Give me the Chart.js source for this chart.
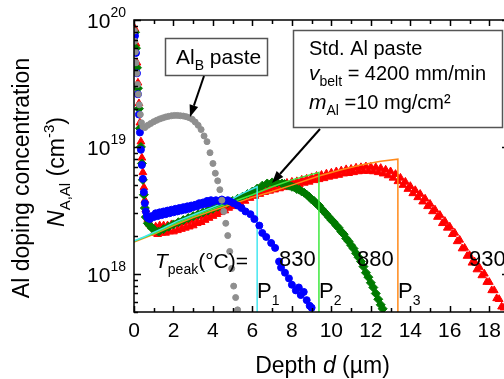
<!DOCTYPE html>
<html>
<head>
<meta charset="utf-8">
<script src="https://cdn.jsdelivr.net/npm/chart.js@4"></script>
<style>
  html, body { margin: 0; padding: 0; background: #fff; overflow: hidden; }
  #wrap { width: 520px; height: 379px; }
</style>
</head>
<body>
<div id="wrap"><canvas id="chart" width="520" height="379"></canvas></div>
<script>
// Al_B paste profile
const grayDepth = [0.02,0.04,0.07,0.1,0.14,0.18,0.22,0.27,0.32,0.38,0.45,0.55,0.7,0.85,1.0,1.15,1.3,1.45,1.6,1.75,1.9,2.05,2.2,2.35,2.5,2.65,2.8,2.95,3.1,3.25,3.4,3.55,3.7,3.85,4.0,4.12,4.24,4.35,4.45,4.55,4.65,4.75,4.85,4.95,5.05,5.15,5.25];
const grayConc = [82e18,68e18,56e18,46e18,38e18,31e18,26e18,21.5e18,18e18,15.5e18,14.4e18,14.2e18,14.8e18,15.3e18,15.8e18,16.2e18,16.6e18,16.9e18,17.2e18,17.4e18,17.6e18,17.7e18,17.7e18,17.6e18,17.5e18,17.3e18,17e18,16.5e18,15.7e18,14.8e18,13.7e18,12.2e18,11e18,9e18,7.4e18,6.2e18,5.4e18,4.6e18,3.8e18,3.1e18,2.5e18,2.0e18,1.5e18,1.1e18,0.8e18,0.65e18,0.52e18];

// Std. Al paste, T_peak = 830 °C
const blueDepth = [0.05,0.1,0.15,0.2,0.25,0.3,0.35,0.4,0.45,0.5,0.55,0.6,0.65,0.7,
  0.8,0.9,1.0,1.1,1.2,1.3,1.4,1.5,1.6,1.7,1.8,1.9,2.0,2.1,2.2,2.3,2.4,2.5,2.6,2.7,2.8,2.9,3.0,3.1,3.2,3.3,3.4,3.5,3.6,3.7,3.8,3.9,4.0,
  4.15,4.3,4.45,4.6,4.75,4.9,5.05,5.25,5.45,5.65,5.9,6.1,6.35,6.5,6.7,6.95,7.15,
  7.35,7.45,7.65,7.85,8.0,8.2,8.35,8.45,8.6,8.75,8.9,9.0];
const blueConc = [75e18,55e18,38e18,26e18,18e18,13e18,9.5e18,7.2e18,5.6e18,4.4e18,3.6e18,3.1e18,2.85e18,2.75e18,
  2.7e18,2.85e18,2.8e18,3.0e18,2.85e18,3.05e18,2.9e18,3.1e18,2.95e18,3.15e18,3.0e18,3.2e18,3.05e18,3.25e18,3.1e18,3.3e18,3.15e18,3.35e18,3.2e18,3.4e18,3.25e18,3.45e18,3.35e18,3.5e18,3.4e18,3.6e18,3.5e18,3.65e18,3.55e18,3.75e18,3.6e18,3.8e18,3.7e18,
  3.8e18,3.75e18,3.85e18,3.75e18,3.8e18,3.7e18,3.6e18,3.45e18,3.3e18,3.1e18,2.95e18,2.7e18,2.4e18,2.1e18,1.95e18,1.75e18,1.6e18,
  1.25e18,1.12e18,1.02e18,0.92e18,0.82e18,0.74e18,0.78e18,0.68e18,0.72e18,0.62e18,0.56e18,0.54e18];

// Std. Al paste, T_peak = 880 °C
const greenDepth = [0.05,0.1,0.15,0.2,0.25,0.3,0.35,0.4,0.45,0.5,0.55,0.6,0.7,0.8,0.9,1.0,
  1.25,1.5,1.75,2.0,2.25,2.5,2.75,3.0,3.25,3.5,3.75,4.0,4.25,4.5,4.75,5.0,5.25,5.5,5.75,6.0,6.25,6.5,6.75,7.0,7.25,7.5,
  7.625,7.75,7.875,8.0,8.125,8.25,8.375,8.5,8.625,8.75,8.875,9.0,9.125,9.25,9.375,9.5,
  9.625,9.75,9.875,10.0,10.125,10.25,10.375,10.5,10.625,10.75,10.875,11.0,11.125,11.25,11.375,11.5,
  11.625,11.75,11.875,12.0,12.125,12.25,12.375,12.5,12.6];
const greenConc = [80e18,60e18,42e18,29e18,20e18,14e18,10e18,7.4e18,5.5e18,4.2e18,3.3e18,2.8e18,2.5e18,2.4e18,2.3e18,2.25e18,
  2.15e18,2.25e18,2.35e18,2.45e18,2.55e18,2.65e18,2.75e18,2.85e18,2.95e18,3.05e18,3.15e18,3.25e18,3.38e18,3.5e18,3.62e18,3.75e18,3.9e18,4.05e18,4.25e18,4.45e18,4.7e18,4.95e18,5.15e18,5.25e18,5.25e18,5.15e18,
  5.1e18,5.0e18,4.95e18,4.85e18,4.8e18,4.65e18,4.6e18,4.45e18,4.35e18,4.2e18,4.05e18,3.85e18,3.75e18,3.55e18,3.45e18,3.25e18,
  3.1e18,2.95e18,2.8e18,2.65e18,2.55e18,2.4e18,2.3e18,2.15e18,2.05e18,1.9e18,1.8e18,1.68e18,1.58e18,1.45e18,1.35e18,1.25e18,
  1.14e18,1.02e18,0.94e18,0.85e18,0.78e18,0.7e18,0.63e18,0.57e18,0.53e18];

// Std. Al paste, T_peak = 930 °C
const redDepth = [0.05,0.1,0.15,0.2,0.25,0.3,0.35,0.4,0.45,0.5,0.55,0.6,0.7,0.8,
  0.9,1.0,1.1,1.2,1.3,1.4,1.5,1.6,1.7,1.8,1.9,2.0,2.1,2.2,2.3,2.4,2.5,2.6,2.7,2.8,
  2.9,3.0,3.1,3.2,3.3,3.4,3.5,3.6,3.7,3.8,3.9,4.0,4.1,4.2,4.3,4.4,4.5,4.6,4.7,4.8,4.9,5.0,
  5.25,5.375,5.5,5.625,5.75,5.875,6.0,6.125,6.25,6.375,6.5,6.625,6.75,6.875,7.0,7.125,7.25,7.375,7.5,7.625,
  7.75,7.875,8.0,8.125,8.25,8.375,8.5,8.625,8.75,8.875,9.0,9.125,9.25,9.375,9.5,9.625,9.75,9.875,10.0,10.125,
  10.25,10.375,10.5,10.625,10.75,10.875,11.0,11.125,11.25,11.375,11.5,11.625,11.75,11.875,12.0,12.125,12.25,12.375,12.5,12.625,
  12.75,12.875,13.0,13.125,13.25,13.375,13.5,13.625,13.75,13.875,14.0,14.125,14.25,14.375,14.5,14.625,14.75,14.875,15.0,15.125,
  15.25,15.375,15.5,15.625,15.75,15.875,16.0,16.125,16.25,16.375,16.5,16.625,16.75,16.875,17.0,17.125,17.25,17.375,17.5,17.625,
  17.75,17.875,18.0,18.125,18.25,18.375,18.5,18.625,18.75,18.875,19.0];
const redConc = [85e18,65e18,46e18,32e18,22e18,15.5e18,11e18,8.2e18,6.3e18,4.8e18,3.8e18,3.2e18,2.7e18,2.45e18,
  2.35e18,2.1e18,2.35e18,2.05e18,2.4e18,2.1e18,2.4e18,2.1e18,2.4e18,2.15e18,2.45e18,2.15e18,2.45e18,2.2e18,2.5e18,2.25e18,2.55e18,2.3e18,2.6e18,2.35e18,
  2.65e18,2.4e18,2.75e18,2.5e18,2.85e18,2.55e18,2.9e18,2.65e18,3.0e18,2.75e18,3.1e18,2.85e18,3.2e18,2.95e18,3.3e18,3.05e18,3.4e18,3.15e18,3.5e18,3.3e18,3.6e18,3.4e18,
  3.75e18,3.6e18,3.9e18,3.75e18,4.1e18,3.95e18,4.3e18,4.1e18,4.45e18,4.25e18,4.6e18,4.4e18,4.75e18,4.5e18,4.85e18,4.6e18,5.0e18,4.7e18,5.1e18,4.8e18,
  5.2e18,4.9e18,5.3e18,4.95e18,5.35e18,5.05e18,5.5e18,5.2e18,5.6e18,5.3e18,5.75e18,5.45e18,5.9e18,5.55e18,6.0e18,5.65e18,6.15e18,5.8e18,6.25e18,5.9e18,
  6.4e18,6.0e18,6.5e18,6.15e18,6.65e18,6.2e18,6.7e18,6.3e18,6.85e18,6.4e18,6.9e18,6.45e18,7.0e18,6.45e18,6.95e18,6.4e18,6.9e18,6.3e18,6.8e18,6.15e18,
  6.6e18,5.95e18,6.4e18,5.7e18,6.1e18,5.35e18,5.7e18,5.0e18,5.3e18,4.65e18,4.9e18,4.3e18,4.55e18,4.0e18,4.25e18,3.7e18,3.9e18,3.4e18,3.55e18,3.1e18,
  3.2e18,2.8e18,2.9e18,2.5e18,2.6e18,2.3e18,2.35e18,2.05e18,2.1e18,1.8e18,1.85e18,1.58e18,1.6e18,1.38e18,1.4e18,1.22e18,1.25e18,1.08e18,1.12e18,0.97e18,
  1.0e18,0.86e18,0.86e18,0.74e18,0.74e18,0.64e18,0.63e18,0.55e18,0.54e18,0.5e18,0.49e18];

// simulated profiles, each ending in a drop line at its junction depth P1..P3
const fitP1Depth = [0,0.5,1,1.5,2.2,3.2,4,4.85,5.5,6.24,6.24];
const fitP1Conc = [1.82e18,1.95e18,2.12e18,2.3e18,2.6e18,3.0e18,3.35e18,3.8e18,4.3e18,4.85e18,5e17];
const fitP2Depth = [0,1,2,3,4,5,6,7,8,9.37,9.37];
const fitP2Conc = [1.8e18,2.08e18,2.45e18,2.85e18,3.25e18,3.7e18,4.2e18,4.85e18,5.5e18,6.3e18,5e17];
const fitP3Depth = [0,1,2,3,4,5,6,7,8,9.37,10.5,11.5,12.5,13.37,13.37];
const fitP3Conc = [1.78e18,2.05e18,2.4e18,2.78e18,3.15e18,3.55e18,4.0e18,4.45e18,5.0e18,5.9e18,6.6e18,7.2e18,7.7e18,8.0e18,5e17];

const xTicks = [0,2,4,6,8,10,12,14,16,18];
const yTicks = [1e18,1e19,1e20];
const yTickExp = ['18','19','20'];

const FONT = '"Liberation Sans", Arial, Helvetica, sans-serif';

function pts(xs, ys) {
  return xs.map((v, i) => ({x: v, y: ys[i]}));
}

function font(size, italic) {
  return (italic ? 'italic ' : '') + size + 'px ' + FONT;
}

// parts: [text, size, dy, italic]
function richText(ctx, parts, x, y, align) {
  let w = 0;
  parts.forEach(p => { ctx.font = font(p[1], p[3]); w += ctx.measureText(p[0]).width; });
  if (align === 'center') x -= w / 2;
  else if (align === 'right') x -= w;
  parts.forEach(p => {
    ctx.font = font(p[1], p[3]);
    ctx.fillText(p[0], x, y + (p[2] || 0));
    x += ctx.measureText(p[0]).width;
  });
}

function arrow(ctx, x1, y1, x2, y2) {
  const a = Math.atan2(y2 - y1, x2 - x1);
  const len = 12, half = 4.5;
  const bx = x2 - len * Math.cos(a), by = y2 - len * Math.sin(a);
  ctx.beginPath();
  ctx.moveTo(x1, y1);
  ctx.lineTo(bx, by);
  ctx.lineWidth = 2;
  ctx.stroke();
  ctx.beginPath();
  ctx.moveTo(x2, y2);
  ctx.lineTo(bx + half * Math.sin(a), by - half * Math.cos(a));
  ctx.lineTo(bx - half * Math.sin(a), by + half * Math.cos(a));
  ctx.closePath();
  ctx.fill();
}

const framePlugin = {
  id: 'frame',
  afterDraw(chart) {
    const ctx = chart.ctx;
    const a = chart.chartArea;
    const xs = chart.scales.x, ys = chart.scales.y;
    ctx.save();
    ctx.strokeStyle = '#000';
    ctx.fillStyle = '#000';
    ctx.lineWidth = 1.5;
    ctx.strokeRect(a.left, a.top, a.right - a.left, a.bottom - a.top);

    // inward ticks, x every 1 µm
    ctx.beginPath();
    for (let v = 0; v <= xs.max; v++) {
      const px = Math.round(xs.getPixelForValue(v)) + 0.5;
      const len = v % 2 ? 4 : 6;
      ctx.moveTo(px, a.bottom); ctx.lineTo(px, a.bottom - len);
      ctx.moveTo(px, a.top); ctx.lineTo(px, a.top + len);
    }
    // log ticks on y
    for (let n = 17; n <= 20; n++) {
      for (let k = 1; k <= 9; k++) {
        const val = k * Math.pow(10, n);
        if (val < ys.min || val > ys.max) continue;
        const py = Math.round(ys.getPixelForValue(val)) + 0.5;
        const len = k === 1 ? 7 : 4;
        ctx.moveTo(a.left, py); ctx.lineTo(a.left + len, py);
        ctx.moveTo(a.right, py); ctx.lineTo(a.right - len, py);
      }
    }
    ctx.stroke();

    ctx.textBaseline = 'alphabetic';
    ctx.textAlign = 'left';

    // tick labels
    xTicks.forEach(v => {
      richText(ctx, [[String(v), 21]], xs.getPixelForValue(v), a.bottom + 25, 'center');
    });
    yTicks.forEach((v, i) => {
      const py = ys.getPixelForValue(v);
      ctx.font = font(14);
      const ew = ctx.measureText(yTickExp[i]).width;
      richText(ctx, [['10', 21]], a.left - 8 - ew, py + 8, 'right');
      richText(ctx, [[yTickExp[i], 14]], a.left - 8 - ew, py - 3, 'left');
    });

    // axis titles
    richText(ctx, [['Depth ', 23], ['d', 23, 0, true], [' (µm)', 23]], (a.left + a.right) / 2 + 1, 373, 'center');
    ctx.save();
    ctx.translate(29, 178);
    ctx.rotate(-Math.PI / 2);
    richText(ctx, [['Al doping concentration', 23]], 0, 0, 'center');
    ctx.restore();
    ctx.save();
    ctx.translate(64, 172);
    ctx.rotate(-Math.PI / 2);
    richText(ctx, [['N', 23, 0, true], ['A,Al', 15, 6], [' (cm', 23], ['-3', 15, -10], [')', 23]], 0, 0, 'center');
    ctx.restore();

    // Al_B paste label
    ctx.lineWidth = 1.5;
    ctx.strokeStyle = '#555';
    ctx.fillStyle = '#fff';
    ctx.fillRect(165, 38, 103, 37);
    ctx.strokeRect(165.5, 38.5, 102, 37);
    ctx.fillStyle = '#000';
    richText(ctx, [['Al', 21], ['B', 14, 6], [' paste', 21]], 176, 64, 'left');

    // Std. Al paste label
    ctx.strokeStyle = '#555';
    ctx.fillStyle = '#fff';
    ctx.fillRect(293, 30, 209, 98);
    ctx.strokeRect(293.5, 30.5, 209, 97);
    ctx.fillStyle = '#000';
    richText(ctx, [['Std. Al paste', 20]], 309, 55, 'left');
    richText(ctx, [['v', 21, 0, true], ['belt', 14, 6], [' = 4200 mm/min', 20]], 309, 80, 'left');
    richText(ctx, [['m', 21, 0, true], ['Al', 14, 6], [' =10 mg/cm²', 20]], 309, 109, 'left');

    ctx.strokeStyle = '#000';
    arrow(ctx, 204, 76, 190, 117);
    arrow(ctx, 320, 129, 272, 183);

    // peak temperatures and junction markers
    richText(ctx, [['T', 21, 0, true], ['peak', 14, 6], ['(°C)=', 21]], 155, 268, 'left');
    richText(ctx, [['830', 22]], 279, 266, 'left');
    richText(ctx, [['880', 22]], 357, 266, 'left');
    richText(ctx, [['930', 22]], 469, 266, 'left');
    richText(ctx, [['P', 22], ['1', 14, 7]], 257, 298, 'left');
    richText(ctx, [['P', 22], ['2', 14, 7]], 319, 298, 'left');
    richText(ctx, [['P', 22], ['3', 14, 7]], 398, 298, 'left');
    ctx.restore();
  }
};

function markers(label, xs, ys, color, style, radius) {
  return {
    label: label,
    data: pts(xs, ys),
    showLine: false,
    pointStyle: style,
    pointRadius: radius,
    pointBackgroundColor: color,
    pointBorderColor: color,
    pointBorderWidth: 1
  };
}

function fitLine(label, xs, ys, color) {
  return {
    label: label,
    data: pts(xs, ys),
    showLine: true,
    borderColor: color,
    borderWidth: 1.5,
    pointRadius: 0,
    fill: false,
    tension: 0
  };
}

// first dataset is drawn on top
new Chart(document.getElementById('chart'), {
  type: 'scatter',
  data: {
    datasets: [
      markers('AlB paste', grayDepth, grayConc, '#8f8f8f', 'circle', 3),
      markers('830', blueDepth, blueConc, '#0000ff', 'circle', 3.5),
      fitLine('P1', fitP1Depth, fitP1Conc, '#45e6f0'),
      fitLine('P2', fitP2Depth, fitP2Conc, '#3ee83e'),
      fitLine('P3', fitP3Depth, fitP3Conc, '#ff8a1a'),
      markers('880', greenDepth, greenConc, '#007a00', 'rectRot', 4.5),
      markers('930', redDepth, redConc, '#ff0000', 'triangle', 4.5)
    ]
  },
  options: {
    responsive: false,
    animation: false,
    layout: { padding: { left: 134, top: 20, right: 11, bottom: 67 } },
    scales: {
      x: { type: 'linear', min: 0, max: 19, display: false },
      y: { type: 'logarithmic', min: 5e17, max: 1e20, display: false }
    },
    plugins: {
      legend: { display: false },
      tooltip: { enabled: false }
    }
  },
  plugins: [framePlugin]
});
</script>
</body>
</html>
